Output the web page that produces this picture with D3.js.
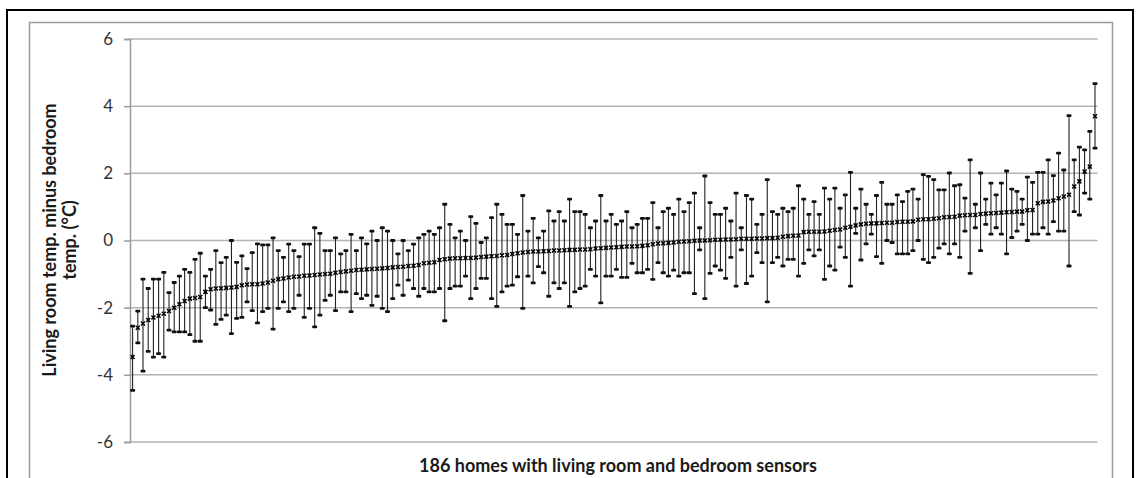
<!DOCTYPE html>
<html>
<head>
<meta charset="utf-8">
<script src="https://cdn.jsdelivr.net/npm/d3@7"></script>
<style>
  html, body { margin: 0; padding: 0; background: #fff; }
  svg { display: block; }
  text { font-family: Lato, "Open Sans", "Noto Sans", sans-serif; }
</style>
</head>
<body>
<svg id="chart" width="1139" height="478"></svg>
<script>
// Mean living-room minus bedroom temperature difference per home (°C), sorted
const meanDiff = [
  -3.47,-2.6,-2.47,-2.37,-2.29,-2.24,-2.18,-2.1,-2.0,-1.9,
  -1.8,-1.73,-1.71,-1.68,-1.53,-1.45,-1.43,-1.42,-1.41,-1.40,
  -1.38,-1.33,-1.31,-1.3,-1.3,-1.28,-1.25,-1.2,-1.15,-1.13,
  -1.1,-1.08,-1.07,-1.05,-1.04,-1.03,-1.01,-1.0,-0.99,-0.96,
  -0.94,-0.92,-0.9,-0.88,-0.87,-0.86,-0.85,-0.84,-0.83,-0.82,
  -0.8,-0.79,-0.78,-0.76,-0.75,-0.73,-0.68,-0.66,-0.65,-0.58,
  -0.56,-0.54,-0.53,-0.53,-0.52,-0.52,-0.51,-0.49,-0.48,-0.47,
  -0.46,-0.44,-0.43,-0.4,-0.38,-0.36,-0.34,-0.33,-0.33,-0.32,
  -0.31,-0.3,-0.3,-0.29,-0.28,-0.28,-0.27,-0.27,-0.26,-0.24,
  -0.23,-0.22,-0.21,-0.2,-0.19,-0.18,-0.18,-0.17,-0.16,-0.14,
  -0.11,-0.09,-0.08,-0.07,-0.06,-0.04,-0.03,-0.02,-0.01,0.0,
  0.0,0.01,0.02,0.02,0.03,0.03,0.04,0.05,0.05,0.05,
  0.06,0.06,0.07,0.07,0.08,0.11,0.13,0.14,0.15,0.25,
  0.26,0.26,0.26,0.27,0.29,0.31,0.33,0.38,0.41,0.45,
  0.48,0.5,0.51,0.51,0.52,0.53,0.53,0.55,0.56,0.56,
  0.57,0.62,0.63,0.63,0.65,0.66,0.69,0.7,0.71,0.74,
  0.75,0.76,0.76,0.79,0.8,0.81,0.82,0.83,0.84,0.85,
  0.86,0.86,0.9,0.91,1.11,1.15,1.16,1.19,1.26,1.31,
  1.36,1.61,1.76,2.05,2.2,3.7
];

// Upper end of each home's error bar (°C)
const upperDiff = [
  -2.55,-2.1,-1.15,-1.43,-1.15,-1.15,-0.95,-1.55,-1.25,-1.06,
  -0.86,-0.95,-0.56,-0.38,-1.06,-0.86,-0.3,-0.66,-0.5,0.0,
  -0.65,-0.46,-0.84,-0.36,-0.1,-0.13,-0.13,0.08,-0.3,-0.5,
  -0.11,-0.3,-0.48,-0.11,-0.11,0.38,0.21,-0.3,-0.3,0.08,
  -0.4,-0.3,0.18,-0.3,0.08,-0.1,0.28,0.0,0.38,0.28,
  0.0,-0.4,0.0,-0.3,-0.11,0.08,0.18,0.28,0.18,0.38,
  1.08,0.48,0.08,0.28,0.0,0.71,0.51,-0.06,0.08,0.68,
  1.08,0.78,0.48,0.48,0.18,1.34,0.28,0.66,0.08,0.28,
  0.88,0.58,0.86,0.58,1.23,0.86,0.86,0.78,0.38,0.58,
  1.34,0.58,0.78,0.48,0.58,0.86,0.38,0.48,0.66,0.66,
  1.13,0.38,0.86,0.96,0.78,1.23,0.86,1.13,1.41,0.38,
  1.92,1.13,0.78,0.78,0.96,0.58,1.41,0.38,1.34,1.23,
  0.48,0.78,1.81,0.86,0.78,0.96,0.86,0.96,1.63,1.23,
  0.78,1.16,0.78,1.56,1.23,1.56,0.96,1.36,2.03,0.96,
  1.53,1.08,0.78,1.34,1.73,1.08,1.08,1.36,1.16,1.46,
  1.53,1.23,1.96,1.91,1.81,1.51,1.51,2.01,1.63,1.66,
  1.26,2.4,1.08,2.01,1.23,1.71,1.36,1.71,2.07,1.53,
  1.46,1.23,1.89,1.73,2.03,2.03,2.4,1.93,2.6,2.1,
  3.72,2.4,2.78,2.7,3.25,4.67
];

// Lower end of each home's error bar (°C)
const lowerDiff = [
  -4.46,-3.05,-3.89,-3.3,-3.47,-3.37,-3.47,-2.67,-2.72,-2.72,
  -2.72,-2.8,-3.0,-3.0,-2.0,-2.07,-2.5,-2.35,-2.22,-2.77,
  -2.32,-2.29,-1.83,-2.09,-2.45,-2.12,-2.02,-2.64,-2.02,-1.83,
  -2.12,-2.02,-1.63,-2.29,-2.02,-2.57,-2.22,-1.78,-1.63,-2.09,
  -1.53,-1.53,-2.12,-1.58,-1.73,-1.63,-1.93,-1.66,-2.02,-2.12,
  -1.73,-1.33,-1.63,-1.18,-1.43,-1.66,-1.43,-1.53,-1.53,-1.43,
  -2.39,-1.43,-1.36,-1.36,-1.06,-1.73,-1.43,-1.13,-1.13,-1.73,
  -1.96,-1.53,-1.36,-1.33,-1.08,-2.02,-1.06,-1.26,-0.78,-0.96,
  -1.66,-1.26,-1.43,-1.26,-1.96,-1.53,-1.43,-1.36,-0.86,-1.06,
  -1.86,-1.06,-1.06,-0.86,-1.1,-1.1,-0.68,-0.96,-0.96,-0.86,
  -1.16,-0.66,-0.96,-1.06,-0.88,-1.06,-0.96,-0.96,-1.58,-0.28,
  -1.73,-0.98,-0.76,-0.88,-1.13,-0.5,-1.36,-0.28,-1.28,-1.06,
  -0.36,-0.66,-1.83,-0.66,-0.5,-0.76,-0.56,-0.56,-1.06,-0.68,
  -0.28,-0.46,-0.28,-1.16,-0.76,-0.88,-0.2,-0.5,-1.36,0.21,
  -0.58,-0.1,0.19,-0.48,-0.68,0.0,-0.06,-0.4,-0.4,-0.4,
  -0.3,0.0,-0.56,-0.66,-0.5,-0.23,-0.1,-0.4,-0.1,-0.5,
  0.28,-0.98,0.38,-0.3,0.48,0.19,0.38,0.19,-0.4,0.09,
  0.28,0.48,0.0,0.19,0.19,0.38,0.19,0.56,0.28,0.28,
  -0.76,0.86,0.76,1.41,1.23,2.75
];

// Home identifiers along the x axis (1..186)
const homeIds = meanDiff.map((_, i) => i + 1);

const yTicks = [-6, -4, -2, 0, 2, 4, 6];
const yTitleLines = ["Living room temp. minus bedroom", "temp. (°C)"];
const xTitle = "186 homes with living room and bedroom sensors";

const svg = d3.select("#chart");

// outer frame and chart-area frame
svg.append("rect")
  .attr("x", 7).attr("y", 10).attr("width", 1126).attr("height", 480)
  .attr("fill", "none").attr("stroke", "#000").attr("stroke-width", 2);
svg.append("rect")
  .attr("x", 29.5).attr("y", 22.5).attr("width", 1083).attr("height", 470)
  .attr("fill", "none").attr("stroke", "#9a9a9a").attr("stroke-width", 1.5);

const plot = { left: 130, right: 1097.6, top: 39, bottom: 442 };

const x = d3.scaleBand()
  .domain(homeIds)
  .range([plot.left, plot.right])
  .padding(0);

const y = d3.scaleLinear()
  .domain([-6, 6])
  .range([plot.bottom, plot.top]);

// horizontal gridlines
svg.append("g")
  .selectAll("line")
  .data(yTicks)
  .join("line")
  .attr("x1", plot.left).attr("x2", plot.right)
  .attr("y1", d => y(d)).attr("y2", d => y(d))
  .attr("stroke", "#b4b4b4").attr("stroke-width", 1.5);

// y axis (plain hyphen for negatives)
const yAxis = d3.axisLeft(y)
  .tickValues(yTicks)
  .tickSize(6)
  .tickPadding(11)
  .tickFormat(d => String(d));
const gy = svg.append("g")
  .attr("transform", `translate(${plot.left},0)`)
  .call(yAxis);
gy.select(".domain").attr("stroke", "#9a9a9a").attr("stroke-width", 1.5);
gy.selectAll(".tick line").attr("stroke", "#9a9a9a").attr("stroke-width", 1.5);
gy.selectAll(".tick text")
  .attr("font-family", "Lato, 'Open Sans', sans-serif")
  .attr("font-size", 17)
  .attr("fill", "#333");

// error bars
const cx = d => x(d) + x.bandwidth() / 2;
const bars = svg.append("g");
bars.selectAll("line")
  .data(homeIds)
  .join("line")
  .attr("x1", cx).attr("x2", cx)
  .attr("y1", (d, i) => y(upperDiff[i]))
  .attr("y2", (d, i) => y(lowerDiff[i]))
  .attr("stroke", "#222").attr("stroke-width", 1.1);

const capW = 5, capH = 2.8;
const caps = svg.append("g").attr("fill", "#111");
caps.selectAll("rect.up")
  .data(homeIds)
  .join("rect")
  .attr("class", "up")
  .attr("x", d => cx(d) - capW / 2)
  .attr("y", (d, i) => y(upperDiff[i]) - capH / 2)
  .attr("width", capW).attr("height", capH).attr("rx", 1);
caps.selectAll("rect.lo")
  .data(homeIds)
  .join("rect")
  .attr("class", "lo")
  .attr("x", d => cx(d) - capW / 2)
  .attr("y", (d, i) => y(lowerDiff[i]) - capH / 2)
  .attr("width", capW).attr("height", capH).attr("rx", 1);

// mean markers (x shaped)
const m = 2;
svg.append("g")
  .selectAll("path")
  .data(homeIds)
  .join("path")
  .attr("d", (d, i) => {
    const px = cx(d), py = y(meanDiff[i]);
    return `M${px - m},${py - m}L${px + m},${py + m}M${px - m},${py + m}L${px + m},${py - m}`;
  })
  .attr("stroke", "#000").attr("stroke-width", 1.5).attr("fill", "none");

// axis titles
const yTitle = svg.append("text")
  .attr("transform", "translate(0,240) rotate(-90)")
  .attr("text-anchor", "middle")
  .attr("font-weight", "bold")
  .attr("font-size", 18)
  .attr("fill", "#1a1a1a");
yTitle.selectAll("tspan")
  .data(yTitleLines)
  .join("tspan")
  .attr("x", 0)
  .attr("y", (d, i) => 56 + i * 20)
  .text(d => d);

svg.append("text")
  .attr("x", 618).attr("y", 472)
  .attr("text-anchor", "middle")
  .attr("font-weight", "bold")
  .attr("font-size", 18)
  .attr("fill", "#1a1a1a")
  .text(xTitle);
</script>
</body>
</html>
